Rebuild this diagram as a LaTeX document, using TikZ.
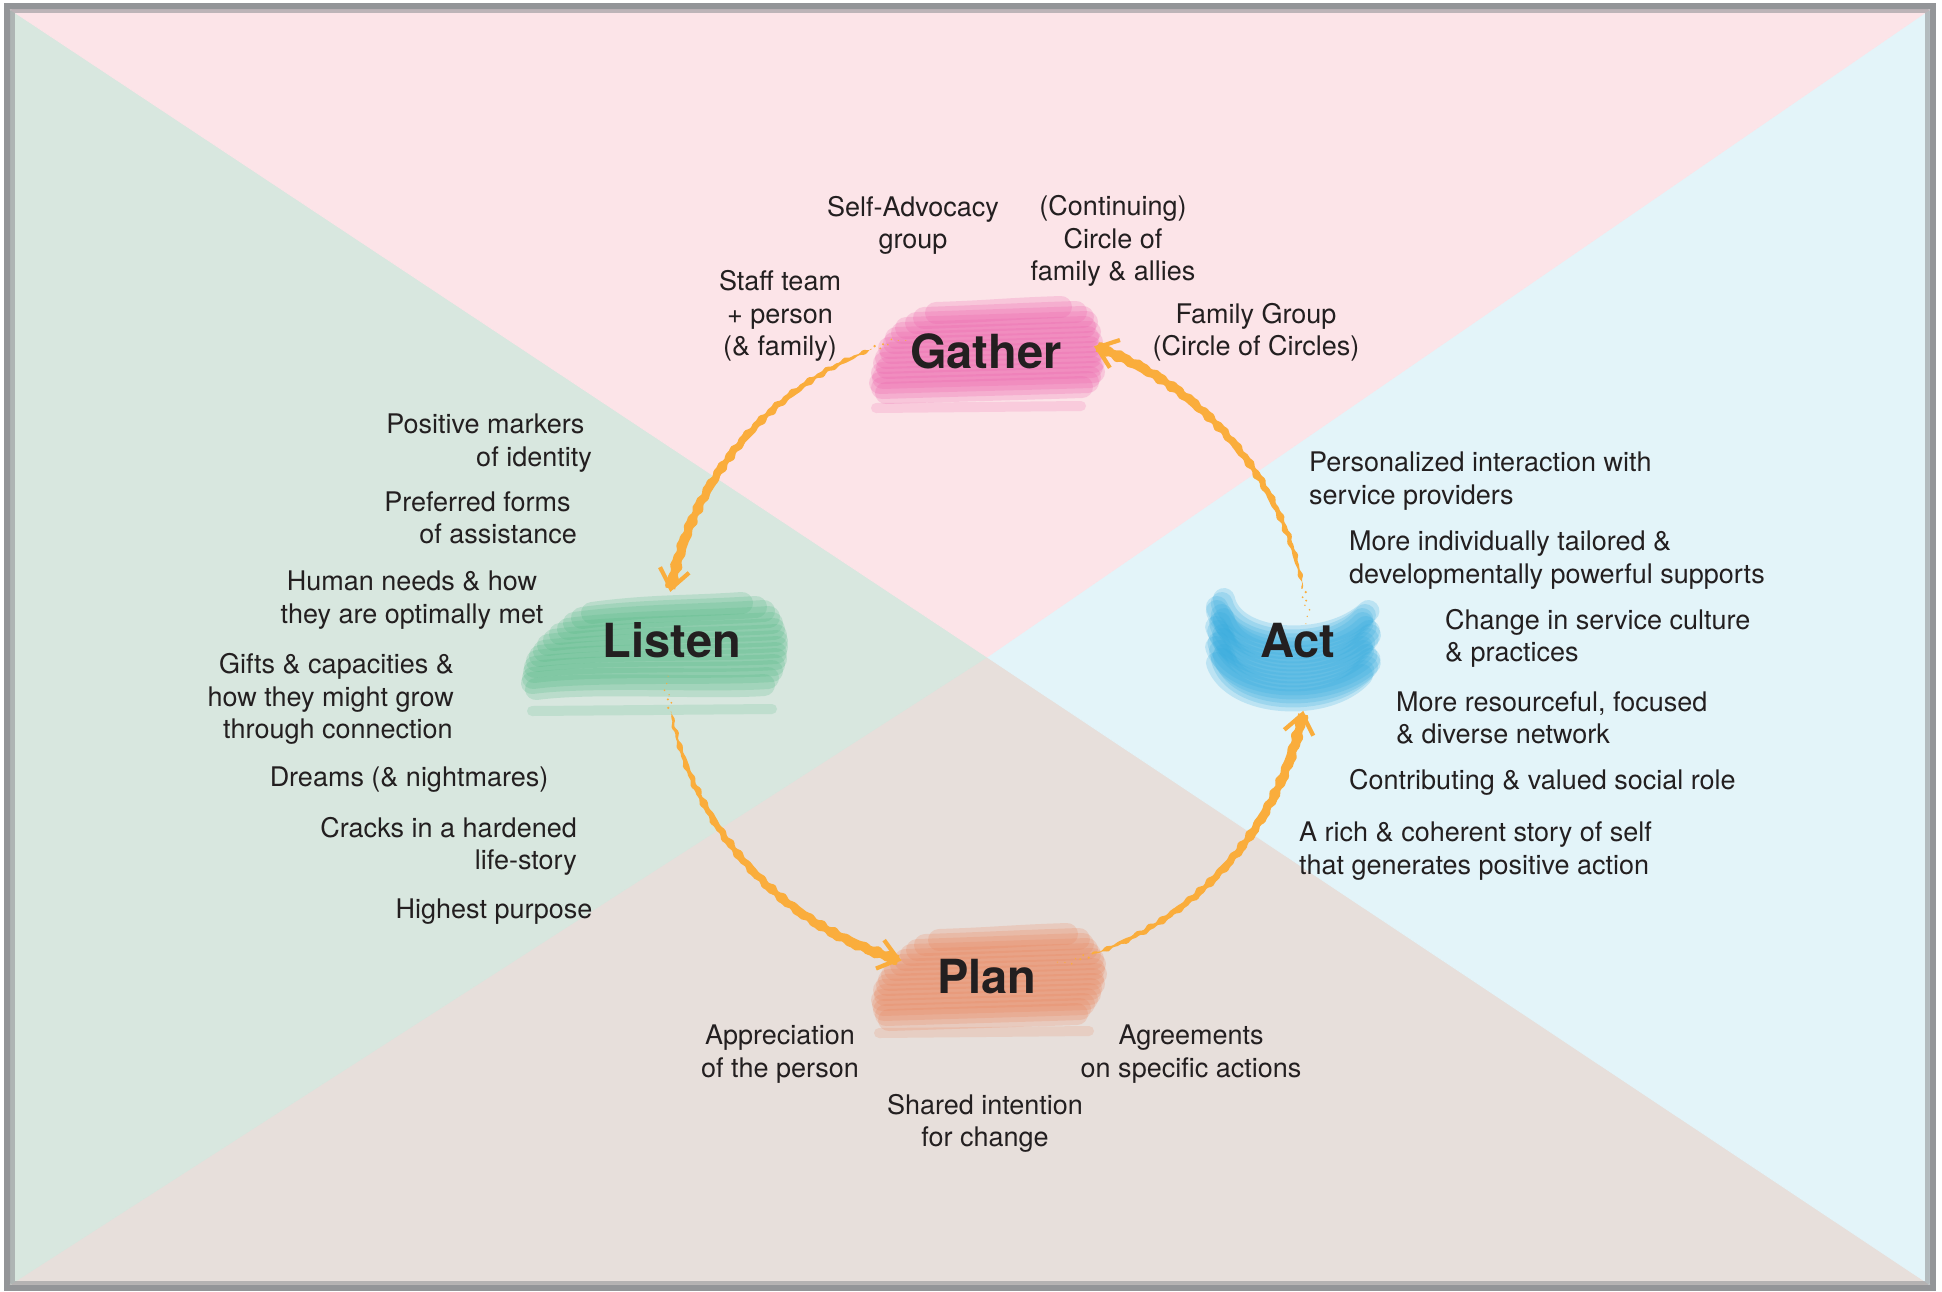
\documentclass[tikz,border=0pt]{standalone}
\usepackage{fontspec}
\setmainfont{TeX Gyre Heros}
\usetikzlibrary{calc}

\definecolor{bgpink}{RGB}{252,228,232}
\definecolor{bggreen}{RGB}{216,231,223}
\definecolor{bgblue}{RGB}{227,244,249}
\definecolor{bgbeige}{RGB}{231,223,219}
\definecolor{framegray}{RGB}{147,149,152}
\definecolor{ink}{RGB}{35,31,32}
\definecolor{flowcol}{RGB}{250,173,60}
\definecolor{gcol}{RGB}{236,92,170}
\definecolor{lcol}{RGB}{80,184,132}
\definecolor{acol}{RGB}{50,170,222}
\definecolor{pcol}{RGB}{236,130,88}

% tapered, ragged arc around the hub, from angle #1 down to angle #2
\newcommand{\flowarc}[2]{%
  \fill[flowcol] plot[domain=#1:#2, samples=140, variable=\t]
    ({987+(322+0.4+4.9*sqrt((#1-\t)/(#1-#2))+0.8*sin(97*(\t-#2))+0.6*sin(199*(\t-#2)))*cos(\t)},
     {650+(322+0.4+4.9*sqrt((#1-\t)/(#1-#2))+0.8*sin(97*(\t-#2))+0.6*sin(199*(\t-#2)))*sin(\t)})
    -- plot[domain=#2:#1, samples=140, variable=\t]
    ({987+(322-0.4-4.9*sqrt((#1-\t)/(#1-#2))+0.8*cos(131*(\t-#2))+0.6*sin(163*(\t-#2)))*cos(\t)},
     {650+(322-0.4-4.9*sqrt((#1-\t)/(#1-#2))+0.8*cos(131*(\t-#2))+0.6*sin(163*(\t-#2)))*sin(\t)})
    -- cycle;
  \foreach \da/\dr/\s in {0.7/2/1.3, 1.5/-2/1.0, 2.2/1/1.1, 3.0/-1/0.8, 3.9/3/0.9, 5.0/0/0.7, 6.3/-2/0.6}
    \fill[flowcol] ($(hub)+({#1+\da}:{322+\dr})$) circle[radius=\s];
}
% open barb at the end of an arc ending at angle #1
\newcommand{\flowtip}[2]{%
  \coordinate (#2) at ($(hub)+(#1:322)$);
  \draw[barb] ($(#2)+({#1+52}:24)$) -- (#2) -- ($(#2)+({#1+128}:24)$);
}

\begin{document}
\begin{tikzpicture}[x=1pt, y=-1pt,
  note/.style={font=\fontsize{27}{32.2}\selectfont, text=ink, inner sep=0pt},
  stage/.style={font=\fontsize{47}{50}\selectfont\bfseries, text=ink, inner sep=0pt},
  barb/.style={draw=flowcol, line width=4.2, line cap=butt, line join=miter},
  brush/.style={line width=22, line cap=round, draw opacity=.22},
  thinbrush/.style={line width=10, line cap=round, draw opacity=.18},
]
\useasboundingbox (0,0) rectangle (1942,1291);
\fill[white] (0,0) rectangle (1942,1291);

% frame and the four coloured quarters
\fill[framegray] (4,3) rectangle (1936,1291);
\coordinate (TL) at (11,10);
\coordinate (TR) at (1929,10);
\coordinate (BR) at (1929,1284);
\coordinate (BL) at (11,1284);
\coordinate (X) at (987,657);
\filldraw[bgbeige, line width=0.8] (BR) -- (BL) -- (X) -- cycle;
\filldraw[bggreen, line width=0.8] (BL) -- (TL) -- (X) -- cycle;
\filldraw[bgblue, line width=0.8] (TR) -- (BR) -- (X) -- cycle;
\filldraw[bgpink, line width=0.8] (TL) -- (TR) -- (X) -- cycle;
\fill[framegray, opacity=.6] (11,10) rectangle (15,1284);
\fill[framegray, opacity=.6] (15,10) rectangle (1929,13);
\fill[framegray, opacity=.6] (1925,13) rectangle (1929,1284);
\fill[framegray, opacity=.6] (15,1281) rectangle (1925,1284);

\coordinate (hub) at (987,650);

% brush marks behind the four stage words
\begin{scope}[shift={(986,351)}]
  \foreach \y/\a/\b in {-41/-50/75, -36/-62/90, -31/-70/97, -26/-80/101, -21/-84/99,
                        -16/-90/104, -11/-92/102, -6/-97/106, -1/-95/104, 4/-100/107,
                        9/-102/105, 14/-99/108, 19/-104/106, 24/-103/108, 29/-106/104,
                        34/-104/102, 39/-100/96}
    \draw[brush, draw=gcol] (\a,\y+3) .. controls (\a+60,\y+1) and (\b-60,\y-1) .. (\b,\y-3);
  \draw[thinbrush, draw=gcol] (-110,57) -- (95,55);
\end{scope}
\begin{scope}[shift={(672,641)}]
  \foreach \ya/\xa/\yb/\xb in {-28/-80/-38/70, -23/-90/-34/84, -18/-98/-30/92, -12/-104/-24/97,
                               -7/-112/-18/100, -1/-118/-12/102, 4/-124/-6/104, 10/-128/0/105,
                               15/-132/6/105, 20/-135/12/104, 26/-137/18/104, 31/-138/24/102,
                               37/-139/30/100, 42/-140/37/96, 48/-136/44/92}
    \draw[brush, draw=lcol] (\xa,\ya) .. controls (\xa+60,\ya-8) and (\xb-60,\yb+4) .. (\xb,\yb);
  \draw[thinbrush, draw=lcol] (-140,70) -- (100,68);
\end{scope}
\begin{scope}[shift={(1298,641)}]
  \foreach \y [count=\i] in {-42,-38,...,22} {
    \pgfmathsetmacro{\jl}{4*sin(\i*77)}
    \pgfmathsetmacro{\jr}{4*cos(\i*53)}
    \draw[brush, draw=acol] (-78+\jl,\y) .. controls (-65,\y+45) and (30,\y+50) .. (68+\jr,\y+12);
  }
\end{scope}
\begin{scope}[shift={(987,976)}]
  \foreach \y/\a/\b in {-39/-48/80, -34/-62/92, -29/-70/96, -24/-76/100, -19/-82/103,
                        -14/-86/106, -9/-92/108, -4/-95/107, 1/-98/109, 6/-100/106,
                        11/-103/107, 16/-102/104, 21/-105/103, 26/-104/100, 31/-103/97,
                        36/-101/93, 41/-98/90}
    \draw[brush, draw=pcol] (\a,\y+3) .. controls (\a+60,\y+1) and (\b-60,\y-1) .. (\b,\y-3);
  \draw[thinbrush, draw=pcol] (-108,57) -- (102,55);
\end{scope}

% the cycle: Gather -> Listen -> Plan -> Act -> Gather
\flowarc{249}{191}
\flowtip{191}{tipL}
\flowarc{169}{106}
\flowtip{106}{tipP}
\flowarc{71}{11.5}
\flowtip{11.5}{tipA}
\flowarc{349}{290}
\flowtip{290}{tipG}

% stage words
\node[stage] (gather) at (986,351) {Gather};
\node[stage] (listen) at (672,640) {Listen};
\node[stage] (act) at (1298,641) {Act};
\node[stage] (plan) at (987,977) {Plan};

% gather
\node[note, align=center] (selfadv) at (913,225) {Self-Advocacy\\group};
\node[note, align=center] (circle) at (1113,241) {(Continuing)\\Circle of\\family \& allies};
\node[note, align=center] (staff) at (780,316) {Staff team\\+ person\\(\& family)};
\node[note, align=center] (famgroup) at (1256,332) {Family Group\\(Circle of Circles)};

% listen
\node[note, align=right, anchor=east] (markers) at (592,443) {Positive markers\hspace*{7.4pt}\\of identity};
\node[note, align=right, anchor=east] (preferred) at (577,518) {Preferred forms\hspace*{6.2pt}\\of assistance};
\node[note, align=center] (needs) at (412,600) {Human needs \& how\\they are optimally met};
\node[note, align=right, anchor=east] (gifts) at (454,699) {Gifts \& capacities \&\\how they might grow\hspace*{8.7pt}\\through connection\hspace*{1.2pt}};
\node[note] (dreams) at (409,780) {Dreams (\& nightmares)};
\node[note, align=right, anchor=east] (cracks) at (577,846) {Cracks in a hardened\\life-story};
\node[note] (purpose) at (494,912) {Highest purpose};

% act
\node[note, align=left, anchor=west] (personal) at (1309,481) {Personalized interaction with\\service providers};
\node[note, align=left, anchor=west] (tailored) at (1349,560) {More individually tailored \&\\developmentally powerful supports};
\node[note, align=left, anchor=west] (culture) at (1445,638) {Change in service culture\\\& practices};
\node[note, align=left, anchor=west] (network) at (1396,718) {More resourceful, focused\\\& diverse network};
\node[note, anchor=west] (role) at (1349,782) {Contributing \& valued social role};
\node[note, align=left, anchor=west] (story) at (1299,851) {A rich \& coherent story of self\\that generates positive action};

% plan
\node[note, align=center] (apprec) at (780,1054) {Appreciation\\of the person};
\node[note, align=center] (agree) at (1191,1054) {Agreements\\on specific actions};
\node[note, align=center] (shared) at (985,1123) {Shared intention\\for change};
\end{tikzpicture}
\end{document}
